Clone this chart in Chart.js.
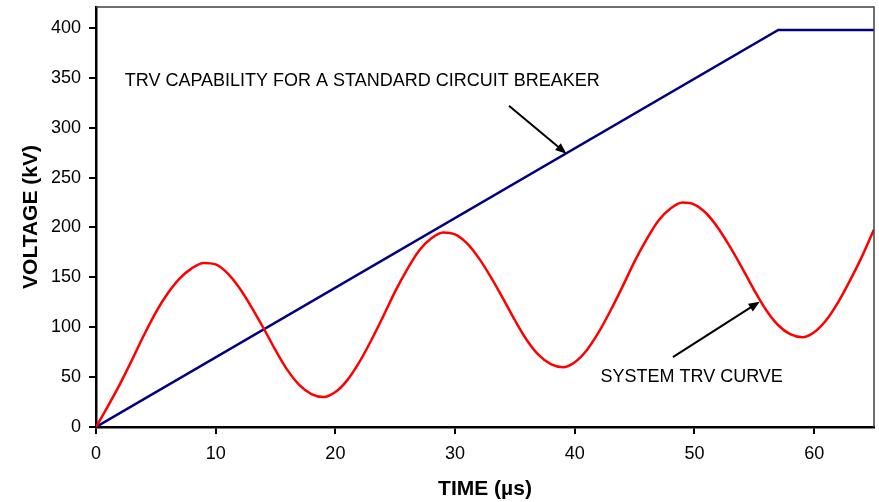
<!DOCTYPE html>
<html>
<head>
<meta charset="utf-8">
<script src="https://cdn.jsdelivr.net/npm/chart.js@4/dist/chart.umd.min.js"></script>
<style>
  html, body { margin: 0; padding: 0; background: #fff; }
</style>
</head>
<body>
<canvas id="trv" width="879" height="502"></canvas>
<script>
// Zeitachse in µs, Systemkurve in kV
const zeit = [0,1,2,3,4,5,6,7,8,9,10,11,12,13,14,15,16,17,18,19,20,21,22,23,24,25,26,27,28,29,30,31,32,33,34,35,36,37,38,39,40,41,42,43,44,45,46,47,48,49,50,51,52,53,54,55,56,57,58,59,60,61,62,63,64,65];
const systemTrv = [0,21,43,67,92,115,134,149,159,164.5,163,154,139,120,99,77,57,42,33,30,35,47,65,87,111,136,158,177,189,195,193,184,169,150,129,107,87,72,63,60,65,77,95,117,141,166,188,207,219,225,223,214,199,180,159,137,117,102,93,90,95,107,125,147,171,198];

// Schalterfähigkeit (Knickpunkte)
const kapZeit = [0, 57, 65];
const kapSpannung = [0, 398, 398];

const xTicks = [0, 10, 20, 30, 40, 50, 60];
const yTicks = [0, 50, 100, 150, 200, 250, 300, 350, 400];

const hinweise = [
    { text: "TRV CAPABILITY FOR A STANDARD CIRCUIT BREAKER", x: 2.4, y: 347, von: [34.5, 322], nach: [39.3, 274] },
    { text: "SYSTEM TRV CURVE", x: 42.15, y: 50, von: [48.2, 70], nach: [55.45, 125.6] },
];

const schrift = "'Liberation Sans', Arial, sans-serif";

const rahmenUndText = {
    id: "rahmenUndText",
    afterDatasetsDraw(chart) {
        const ctx = chart.ctx;
        const a = chart.chartArea;
        const xs = chart.scales.x;
        const ys = chart.scales.y;

        // dünner Rahmen oben und rechts
        ctx.save();
        ctx.strokeStyle = "#404040";
        ctx.lineWidth = 1.5;
        ctx.beginPath();
        ctx.moveTo(a.left, a.top);
        ctx.lineTo(a.right, a.top);
        ctx.lineTo(a.right, a.bottom);
        ctx.stroke();

        hinweise.forEach((h) => {
            ctx.fillStyle = "#000";
            ctx.font = "18px " + schrift;
            ctx.textAlign = "left";
            ctx.textBaseline = "middle";
            ctx.fillText(h.text, xs.getPixelForValue(h.x), ys.getPixelForValue(h.y));

            const x1 = xs.getPixelForValue(h.von[0]);
            const y1 = ys.getPixelForValue(h.von[1]);
            const x2 = xs.getPixelForValue(h.nach[0]);
            const y2 = ys.getPixelForValue(h.nach[1]);
            const w = Math.atan2(y2 - y1, x2 - x1);
            const len = 11;
            ctx.strokeStyle = "#000";
            ctx.lineWidth = 2;
            ctx.beginPath();
            ctx.moveTo(x1, y1);
            ctx.lineTo(x2 - Math.cos(w) * len * 0.8, y2 - Math.sin(w) * len * 0.8);
            ctx.stroke();
            ctx.beginPath();
            ctx.moveTo(x2, y2);
            ctx.lineTo(x2 - Math.cos(w) * len + Math.sin(w) * 4.5, y2 - Math.sin(w) * len - Math.cos(w) * 4.5);
            ctx.lineTo(x2 - Math.cos(w) * len - Math.sin(w) * 4.5, y2 - Math.sin(w) * len + Math.cos(w) * 4.5);
            ctx.closePath();
            ctx.fill();
        });
        ctx.restore();
    },
};

new Chart(document.getElementById("trv"), {
    type: "line",
    data: {
        datasets: [
            {
                label: "SYSTEM TRV CURVE",
                data: zeit.map((t, i) => ({ x: t, y: systemTrv[i] })),
                borderColor: "#ff0000",
                borderWidth: 2.5,
                pointRadius: 0,
                cubicInterpolationMode: "monotone",
                fill: false,
            },
            {
                label: "TRV CAPABILITY",
                data: kapZeit.map((t, i) => ({ x: t, y: kapSpannung[i] })),
                borderColor: "#000080",
                borderWidth: 2.5,
                pointRadius: 0,
                tension: 0,
                fill: false,
            },
        ],
    },
    options: {
        responsive: false,
        animation: false,
        devicePixelRatio: 1,
        layout: { padding: { top: 7, right: 5, left: 0, bottom: 0 } },
        plugins: { legend: { display: false }, tooltip: { enabled: false } },
        scales: {
            x: {
                type: "linear",
                min: 0,
                max: 65,
                afterFit: (s) => { s.height = 75; s.paddingLeft = 0; s.paddingRight = 0; },
                afterBuildTicks: (s) => { s.ticks = xTicks.map((v) => ({ value: v })); },
                border: { display: true, color: "#000", width: 2.5 },
                grid: { drawOnChartArea: false, drawTicks: true, tickLength: 7, color: "#000", lineWidth: 2 },
                ticks: { color: "#000", font: { family: schrift, size: 18 }, padding: 9, maxRotation: 0 },
                title: { display: true, text: "TIME (µs)", color: "#000", font: { family: schrift, size: 21, weight: "bold" }, padding: { top: 0, bottom: 0 } },
            },
            y: {
                min: 0,
                max: 421,
                afterFit: (s) => { s.width = 96; s.paddingTop = 0; s.paddingBottom = 0; },
                afterBuildTicks: (s) => { s.ticks = yTicks.map((v) => ({ value: v })); },
                border: { display: true, color: "#000", width: 2.5 },
                grid: { drawOnChartArea: false, drawTicks: true, tickLength: 7, color: "#000", lineWidth: 2 },
                ticks: { color: "#000", font: { family: schrift, size: 18 }, padding: 8 },
                title: { display: true, text: "VOLTAGE (kV)", color: "#000", font: { family: schrift, size: 21, weight: "bold" }, padding: { top: 19, bottom: 0 } },
            },
        },
    },
    plugins: [rahmenUndText],
});
</script>
</body>
</html>
